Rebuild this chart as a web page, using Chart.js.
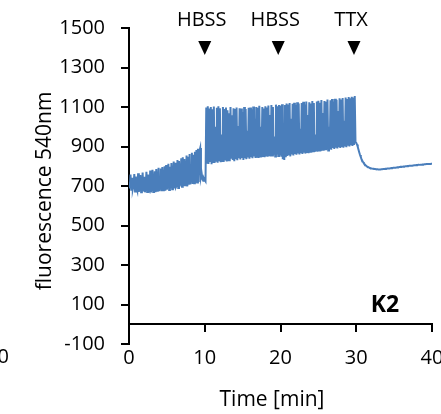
<!DOCTYPE html>
<html>
<head>
<meta charset="utf-8">
<script src="https://cdn.jsdelivr.net/npm/chart.js@4/dist/chart.umd.min.js"></script>
<style>
  html, body { margin: 0; padding: 0; background: #fff; overflow: hidden; }
  #wrap { width: 441px; height: 414px; position: relative; }
</style>
</head>
<body>
<div id="wrap"><canvas id="c"></canvas></div>
<script>
// Fluorescence recording at 540 nm, sampled every 0.1 min
const SAMPLE_MIN = 0.1;

// 0.0 – 9.9 min : spontaneous activity
const baselineTrace = [
  718, 688, 758, 676, 742, 684, 702, 760, 672, 748,
  690, 676, 764, 670, 704, 756, 668, 686, 768, 672,
  746, 668, 692, 772, 670, 758, 680, 674, 778, 668,
  702, 782, 670, 690, 774, 668, 786, 676, 692, 792,
  674, 706, 788, 674, 796, 678, 702, 800, 676, 806,
  682, 712, 812, 680, 798, 688, 816, 684, 722, 824,
  688, 818, 694, 702, 832, 690, 826, 698, 726, 840,
  696, 846, 700, 836, 704, 742, 854, 698, 848, 706,
  862, 708, 746, 868, 710, 858, 714, 874, 716, 882,
  718, 888, 720, 876, 892, 744, 762, 736, 726, 738
];

// 10.0 – 29.9 min : after HBSS additions
const hbssTrace = [
  730, 724, 1098, 818, 1104, 812, 1092, 826, 1100, 810,
  1088, 822, 1102, 816, 1000, 828, 1096, 818, 1104, 830,
  1094, 820, 960, 826, 1100, 822, 1090, 834, 1098, 824,
  1084, 830, 1068, 826, 1100, 838, 1058, 832, 1094, 826,
  1090, 836, 1098, 830, 1004, 840, 1094, 834, 1092, 842,
  1074, 832, 1100, 840, 1090, 836, 980, 844, 1096, 838,
  1098, 846, 1088, 840, 1102, 850, 1040, 842, 1100, 848,
  1096, 842, 1106, 850, 1000, 846, 1100, 852, 1092, 846,
  1104, 854, 1098, 848, 1108, 856, 1060, 850, 1110, 854,
  1100, 858, 950, 850, 1112, 860, 1104, 852, 1110, 856,
  1108, 848, 1114, 836, 1000, 832, 1110, 846, 1118, 852,
  1112, 856, 1120, 850, 1040, 860, 1116, 854, 1122, 862,
  1110, 858, 1124, 864, 1118, 860, 990, 866, 1120, 862,
  1126, 868, 1112, 864, 1128, 872, 1060, 866, 1124, 874,
  1118, 870, 1130, 876, 1120, 872, 960, 880, 1128, 874,
  1132, 880, 1122, 876, 1135, 884, 1070, 878, 1130, 886,
  1126, 884, 1138, 880, 1000, 888, 1134, 884, 1140, 892,
  1128, 888, 1142, 894, 1136, 890, 1080, 896, 1144, 892,
  1138, 898, 1146, 894, 1030, 900, 1148, 896, 1140, 904,
  1150, 900, 1144, 906, 1152, 902, 1148, 908, 1156, 922
];

// 30.0 – 40.0 min : after TTX
const ttxTrace = [
  918, 910, 898, 884, 870, 857, 846, 836, 828, 821,
  815, 810, 806, 802, 799, 797, 795, 793, 791, 790,
  789, 788, 787, 787, 786, 786, 785, 785, 785, 784,
  784, 784, 784, 785, 785, 785, 786, 786, 786, 787,
  787, 788, 788, 789, 789, 790, 790, 791, 791, 792,
  792, 793, 793, 794, 794, 795, 795, 796, 796, 797,
  797, 798, 798, 799, 799, 800, 800, 800, 801, 801,
  802, 802, 803, 803, 803, 804, 804, 805, 805, 805,
  806, 806, 807, 807, 807, 808, 808, 808, 809, 809,
  810, 810, 810, 811, 811, 811, 812, 812, 812, 813,
  813
];

const xTicks = [0, 10, 20, 30, 40];
const yTicks = [-100, 100, 300, 500, 700, 900, 1100, 1300, 1500];

const eventLabels = ['HBSS', 'HBSS', 'TTX'];
const eventTimes = [10, 19.7, 29.7];

const panelLabel = 'K2';
const xTitle = 'Time [min]';
const yTitle = 'fluorescence 540nm';

const FONT = "'Open Sans', 'Noto Sans', sans-serif";
const LINE_BLUE = '#4a7ebb';

const fluor = baselineTrace.concat(hbssTrace, ttxTrace);
const points = fluor.map((v, i) => ({ x: Math.round(i * SAMPLE_MIN * 10) / 10, y: v }));

// event markers, axis titles and panel label
const markers = {
  id: 'markers',
  afterDraw(chart) {
    const { ctx, scales } = chart;
    ctx.save();
    ctx.fillStyle = '#000';
    ctx.textAlign = 'center';
    ctx.textBaseline = 'middle';
    ctx.font = `20px ${FONT}`;
    eventTimes.forEach((t, i) => {
      const px = scales.x.getPixelForValue(t);
      ctx.fillText(eventLabels[i], px - 3, 20);
      ctx.beginPath();
      ctx.moveTo(px - 6.5, 41);
      ctx.lineTo(px + 6.5, 41);
      ctx.lineTo(px, 55);
      ctx.closePath();
      ctx.fill();
    });
    ctx.font = `21px ${FONT}`;
    ctx.fillText(xTitle, 272, 400);
    ctx.save();
    ctx.translate(45, 191);
    ctx.rotate(-Math.PI / 2);
    ctx.fillText(yTitle, 0, 0);
    ctx.restore();
    ctx.font = `bold 23px ${FONT}`;
    ctx.fillText(panelLabel, 385, 305);
    ctx.font = `20px ${FONT}`;
    ctx.textAlign = 'right';
    ctx.fillText('0', 9, 357);
    ctx.restore();
  }
};

const plain = v => String(v);

new Chart(document.getElementById('c'), {
  type: 'line',
  data: {
    datasets: [{
      data: points,
      borderColor: LINE_BLUE,
      borderWidth: 2,
      pointRadius: 0,
      tension: 0,
      fill: false
    }]
  },
  options: {
    responsive: true,
    maintainAspectRatio: false,
    animation: false,
    layout: { padding: { top: 24, right: 9, left: 0, bottom: 0 } },
    plugins: { legend: { display: false }, tooltip: { enabled: false } },
    scales: {
      x: {
        type: 'linear',
        position: 'bottom',
        min: 0, max: 40,
        afterBuildTicks: s => { s.ticks = xTicks.map(v => ({ value: v })); },
        afterFit: s => { s.height = 70; s.paddingLeft = 0; s.paddingRight = 0; },
        grid: { display: false, drawTicks: false },
        border: { display: false },
        ticks: { color: '#000', font: { family: FONT, size: 20 }, padding: 2, maxRotation: 0, callback: plain }
      },
      x2: {
        type: 'linear',
        axis: 'x',
        position: { y: 0 },
        min: 0, max: 40,
        afterBuildTicks: s => { s.ticks = xTicks.map(v => ({ value: v })); },
        afterFit: s => { s.paddingLeft = 0; s.paddingRight = 0; },
        grid: { drawOnChartArea: false, drawTicks: true, tickLength: 7, color: '#000', lineWidth: 2 },
        border: { display: true, color: '#000', width: 2 },
        ticks: { display: false }
      },
      y: {
        type: 'linear',
        position: 'left',
        min: -100, max: 1500,
        afterBuildTicks: s => { s.ticks = yTicks.map(v => ({ value: v })); },
        afterFit: s => { s.width = 129; },
        grid: { drawOnChartArea: false, drawTicks: true, tickLength: 8, color: '#000', lineWidth: 2 },
        border: { display: true, color: '#000', width: 2 },
        ticks: { color: '#000', font: { family: FONT, size: 20 }, padding: 16, callback: plain }
      }
    }
  },
  plugins: [markers]
});
</script>
</body>
</html>
